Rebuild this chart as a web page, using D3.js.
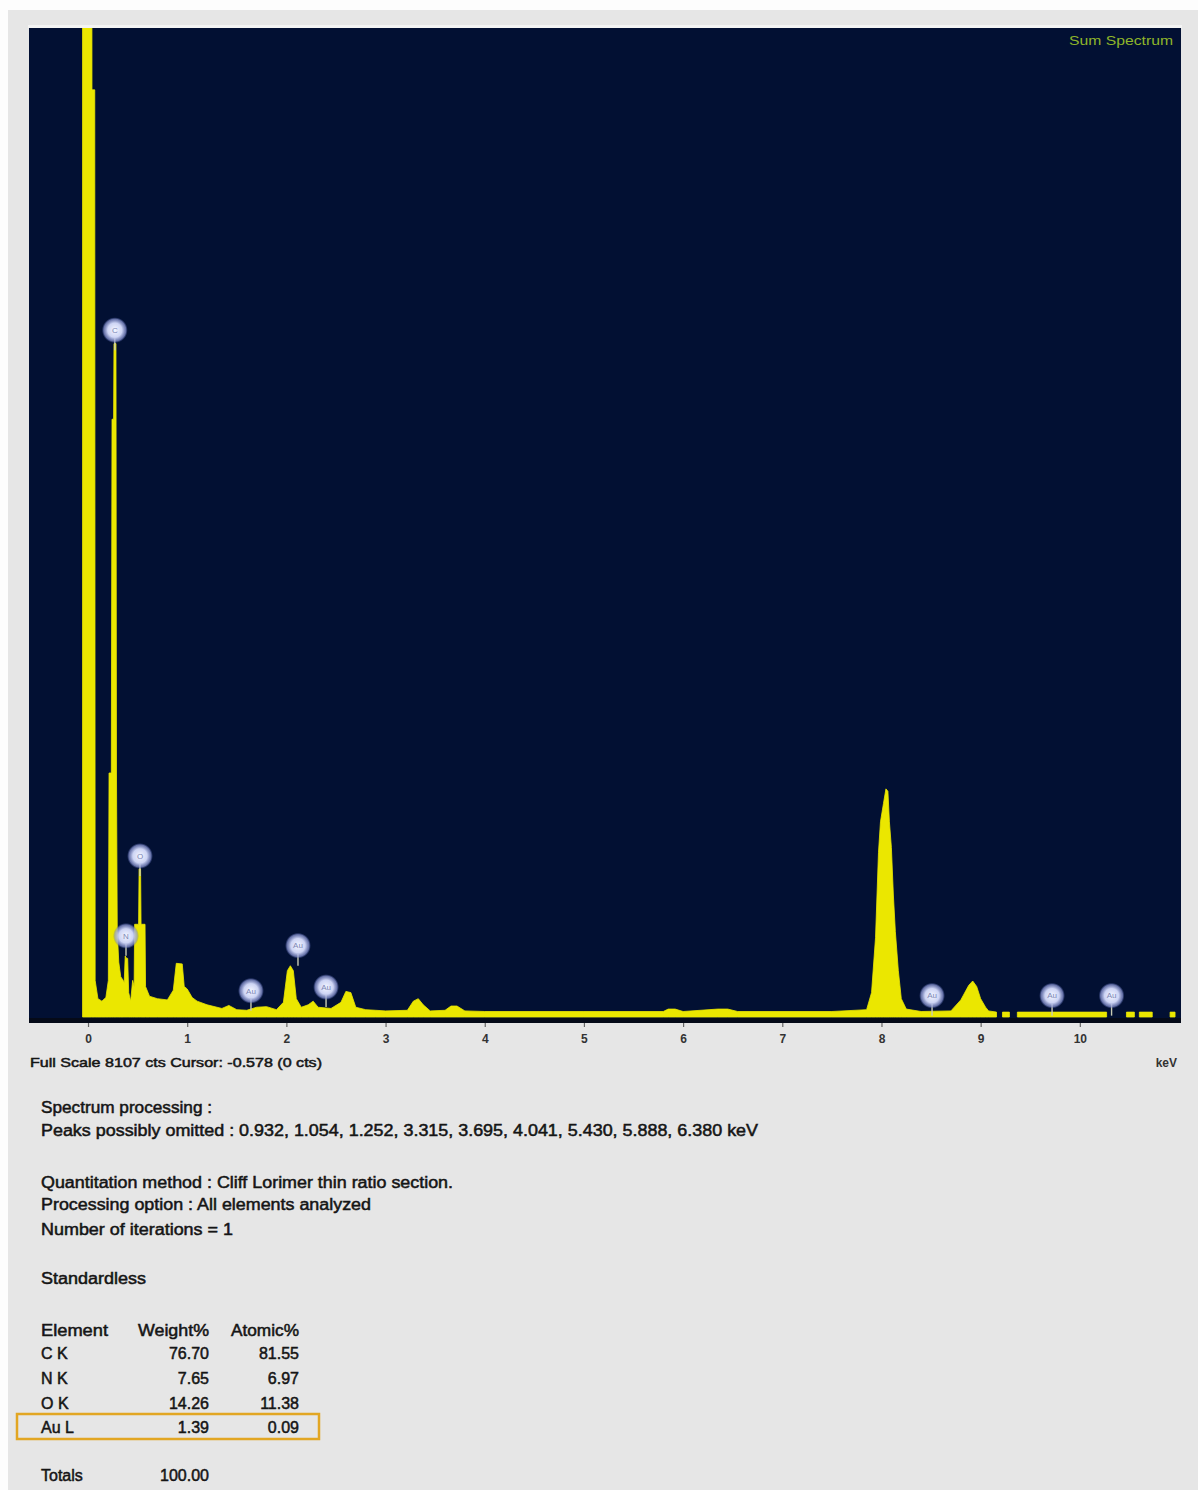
<!DOCTYPE html>
<html>
<head>
<meta charset="utf-8">
<script src="https://cdn.jsdelivr.net/npm/d3@7"></script>
<style>
  html, body { margin: 0; padding: 0; background: #fdfdfd; }
  svg { display: block; }
  .txt { font-family: "Liberation Sans", Arial, sans-serif; fill: #151515; stroke: #151515; stroke-width: 0.5px; }
</style>
</head>
<body>
<svg id="chart" width="1198" height="1490"></svg>
<script>
// EDS sum spectrum: energy (keV) vs counts, 0 marks channels with no counts
const energyKeV = [
  -0.055, 0.035, 0.040, 0.068, 0.072, 0.10, 0.14, 0.18, 0.205, 0.212, 0.235, 0.242, 0.258, 0.262, 0.282,
  0.287, 0.295, 0.31, 0.33, 0.355, 0.365, 0.375, 0.385, 0.40, 0.41, 0.43, 0.45, 0.465, 0.47, 0.51,
  0.515, 0.53, 0.535, 0.575, 0.58, 0.62, 0.70, 0.80, 0.86, 0.89, 0.95, 0.97, 1.00, 1.05, 1.10,
  1.20, 1.35, 1.42, 1.50, 1.60, 1.70, 1.80, 1.90, 1.97, 2.01, 2.04, 2.07, 2.10, 2.15, 2.22,
  2.27, 2.32, 2.45, 2.55, 2.60, 2.65, 2.70, 2.80, 2.90, 3.00, 3.22, 3.28, 3.33, 3.38, 3.45,
  3.60, 3.66, 3.72, 3.80, 4.00, 5.00, 5.80, 5.85, 5.92, 6.00, 6.35, 6.45, 6.55, 7.50, 7.85,
  7.90, 7.94, 7.97, 7.99, 8.02, 8.045, 8.065, 8.08, 8.10, 8.12, 8.14, 8.17, 8.20, 8.25, 8.40,
  8.70, 8.80, 8.88, 8.92, 8.96, 9.00, 9.05, 9.08, 9.16, 9.17, 9.21, 9.22, 9.29, 9.30, 9.36,
  9.37, 10.27, 10.28, 10.46, 10.47, 10.55, 10.56, 10.59, 10.60, 10.73, 10.74, 10.90, 10.91, 10.96, 10.97
];
const counts = [
  12000, 12000, 7600, 7600, 300, 150, 130, 160, 300, 2000, 2000, 4900, 4900, 5520, 5520,
  2000, 700, 450, 330, 300, 280, 500, 484, 480, 200, 130, 300, 250, 760, 760,
  1214, 1214, 760, 760, 250, 170, 150, 140, 220, 440, 435, 250, 230, 160, 130,
  100, 70, 95, 60, 55, 80, 85, 60, 120, 380, 420, 380, 150, 80, 100,
  130, 80, 70, 120, 210, 200, 80, 60, 55, 50, 55, 130, 150, 100, 50,
  55, 90, 90, 50, 45, 45, 45, 65, 65, 45, 65, 65, 45, 45, 60,
  200, 650, 1350, 1600, 1750, 1870, 1850, 1600, 1390, 1000, 700, 380, 150, 65, 45,
  50, 140, 260, 295, 250, 150, 80, 50, 40, 0, 0, 40, 40, 0, 0,
  40, 40, 0, 0, 40, 40, 0, 0, 40, 40, 0, 0, 40, 40, 0
];

// element markers: symbol, line energy (keV), marker height (counts)
const markerElements = ["C", "N", "O", "Au", "Au", "Au", "Au", "Au", "Au"];
const markerKeV = [0.27, 0.383, 0.524, 1.643, 2.117, 2.40, 8.51, 9.72, 10.32];
const markerCounts = [5630, 665, 1320, 215, 585, 245, 175, 175, 175];

const tickKeV = [0, 1, 2, 3, 4, 5, 6, 7, 8, 9, 10];
const fullScaleCts = 8107;

const processingLines = [
  "Spectrum processing :",
  "Peaks possibly omitted : 0.932, 1.054, 1.252, 3.315, 3.695, 4.041, 5.430, 5.888, 6.380 keV"
];
const methodLines = [
  "Quantitation method : Cliff Lorimer thin ratio section.",
  "Processing option : All elements analyzed",
  "Number of iterations = 1"
];
const tableHeader = ["Element", "Weight%", "Atomic%"];
const tableElements = ["C K", "N K", "O K", "Au L"];
const weightPct = ["76.70", "7.65", "14.26", "1.39"];
const atomicPct = ["81.55", "6.97", "11.38", "0.09"];
const totalWeight = "100.00";

const svg = d3.select("#chart");

// page background
svg.append("rect").attr("x", 8).attr("y", 10).attr("width", 1190).attr("height", 1480).attr("fill", "#e6e6e6");

const plot = { left: 29, right: 1181, top: 28, bottom: 1023 };
const x = d3.scaleLinear().domain([-0.595, 11.02]).range([plot.left, plot.right]);
const y = d3.scaleLinear().domain([0, fullScaleCts]).range([1017, plot.top]);

const defs = svg.append("defs");
defs.append("clipPath").attr("id", "plotClip")
  .append("rect").attr("x", plot.left).attr("y", plot.top)
  .attr("width", plot.right - plot.left).attr("height", plot.bottom - plot.top);

const grad = defs.append("radialGradient").attr("id", "markerGlow");
grad.append("stop").attr("offset", "0%").attr("stop-color", "#f4f6ff");
grad.append("stop").attr("offset", "55%").attr("stop-color", "#cdd4f4");
grad.append("stop").attr("offset", "85%").attr("stop-color", "#8f9ad8").attr("stop-opacity", 0.7);
grad.append("stop").attr("offset", "100%").attr("stop-color", "#5060b0").attr("stop-opacity", 0);

defs.append("filter").attr("id", "soft").append("feGaussianBlur").attr("stdDeviation", 0.6);

// plot frame
svg.append("rect").attr("x", plot.left - 1).attr("y", plot.top - 3)
  .attr("width", plot.right - plot.left + 2).attr("height", 3).attr("fill", "#f4f4f4");
svg.append("rect").attr("x", plot.left).attr("y", plot.top)
  .attr("width", plot.right - plot.left).attr("height", plot.bottom - plot.top)
  .attr("fill", "#021033");
svg.append("rect").attr("x", plot.left).attr("y", 1018)
  .attr("width", plot.right - plot.left).attr("height", plot.bottom - 1018)
  .attr("fill", "#050a18");

// spectrum
const spectrum = energyKeV.map((e, i) => ({ e, c: counts[i] }));
const area = d3.area()
  .defined(d => d.c > 0)
  .x(d => x(d.e))
  .y0(y(0))
  .y1(d => y(d.c));

const g = svg.append("g").attr("clip-path", "url(#plotClip)");
g.append("path").datum(spectrum).attr("d", area)
  .attr("fill", "#ebe700").attr("stroke", "#ebe700").attr("stroke-width", 0.8);

// element markers
const markers = g.selectAll("g.marker")
  .data(markerElements.map((s, i) => ({ s, e: markerKeV[i], c: markerCounts[i] })))
  .join("g").attr("class", "marker")
  .attr("transform", d => `translate(${x(d.e)},${y(d.c)})`);
markers.append("line").attr("x1", 0).attr("x2", 0).attr("y1", 8).attr("y2", 20)
  .attr("stroke", "#c9ccb4").attr("stroke-width", 1.4);
markers.append("circle").attr("r", 13).attr("fill", "url(#markerGlow)").attr("filter", "url(#soft)");
markers.append("text").text(d => d.s)
  .attr("text-anchor", "middle").attr("dy", "0.35em")
  .attr("font-family", "Liberation Sans, Arial, sans-serif").attr("font-size", 8)
  .attr("fill", "#7c86b4");

// spectrum title
svg.append("text").attr("x", 1173).attr("y", 45).attr("text-anchor", "end")
  .attr("font-family", "Liberation Sans, Arial, sans-serif").attr("font-size", 13)
  .attr("textLength", 104).attr("lengthAdjust", "spacingAndGlyphs")
  .attr("fill", "#8fb52a").text("Sum Spectrum");

// energy axis
const axis = d3.axisBottom(x).tickValues(tickKeV).tickSize(4).tickFormat(d3.format("d"));
const ax = svg.append("g").attr("transform", `translate(0,${plot.bottom})`).call(axis);
ax.select(".domain").remove();
ax.selectAll(".tick line").attr("stroke", "#666").attr("stroke-width", 1.2);
ax.selectAll(".tick text").attr("y", 11)
  .attr("font-family", "Liberation Sans, Arial, sans-serif").attr("font-size", 12)
  .attr("font-weight", "bold").attr("fill", "#333");

svg.append("text").attr("x", 1177).attr("y", 1067).attr("text-anchor", "end")
  .attr("font-family", "Liberation Sans, Arial, sans-serif").attr("font-size", 12)
  .attr("font-weight", "bold").attr("fill", "#333").text("keV");

svg.append("text").attr("class", "txt").attr("x", 30).attr("y", 1067)
  .attr("font-size", 13).attr("textLength", 292).attr("lengthAdjust", "spacingAndGlyphs")
  .text(`Full Scale ${fullScaleCts} cts Cursor: -0.578  (0 cts)`);

// report text
const textX = 41;
const addLine = (str, yy, len) => {
  const t = svg.append("text").attr("class", "txt").attr("x", textX).attr("y", yy)
    .attr("font-size", 16).text(str);
  if (len) t.attr("textLength", len).attr("lengthAdjust", "spacingAndGlyphs");
  return t;
};
addLine(processingLines[0], 1113, 171);
addLine(processingLines[1], 1136, 717);
addLine(methodLines[0], 1188, 412);
addLine(methodLines[1], 1210, 330);
addLine(methodLines[2], 1235, 192);
addLine("Standardless", 1284, 105);

// quantitation table
const colWeight = 209, colAtomic = 299;
const rowY = [1359, 1384, 1409, 1433];
svg.append("text").attr("class", "txt").attr("x", textX).attr("y", 1336).attr("font-size", 16)
  .attr("textLength", 67).attr("lengthAdjust", "spacingAndGlyphs").text(tableHeader[0]);
svg.append("text").attr("class", "txt").attr("x", colWeight).attr("y", 1336).attr("font-size", 16)
  .attr("text-anchor", "end").attr("textLength", 71).attr("lengthAdjust", "spacingAndGlyphs").text(tableHeader[1]);
svg.append("text").attr("class", "txt").attr("x", colAtomic).attr("y", 1336).attr("font-size", 16)
  .attr("text-anchor", "end").attr("textLength", 68).attr("lengthAdjust", "spacingAndGlyphs").text(tableHeader[2]);

tableElements.forEach((el, i) => {
  svg.append("text").attr("class", "txt").attr("x", textX).attr("y", rowY[i]).attr("font-size", 16).text(el);
  svg.append("text").attr("class", "txt").attr("x", colWeight).attr("y", rowY[i]).attr("font-size", 16)
    .attr("text-anchor", "end").text(weightPct[i]);
  svg.append("text").attr("class", "txt").attr("x", colAtomic).attr("y", rowY[i]).attr("font-size", 16)
    .attr("text-anchor", "end").text(atomicPct[i]);
});

// highlight box around the gold row
svg.append("rect").attr("x", 17).attr("y", 1414).attr("width", 302).attr("height", 25)
  .attr("fill", "none").attr("stroke", "#e2a623").attr("stroke-width", 2.5);

svg.append("text").attr("class", "txt").attr("x", textX).attr("y", 1481).attr("font-size", 16).text("Totals");
svg.append("text").attr("class", "txt").attr("x", colWeight).attr("y", 1481).attr("font-size", 16)
  .attr("text-anchor", "end").text(totalWeight);
</script>
</body>
</html>
